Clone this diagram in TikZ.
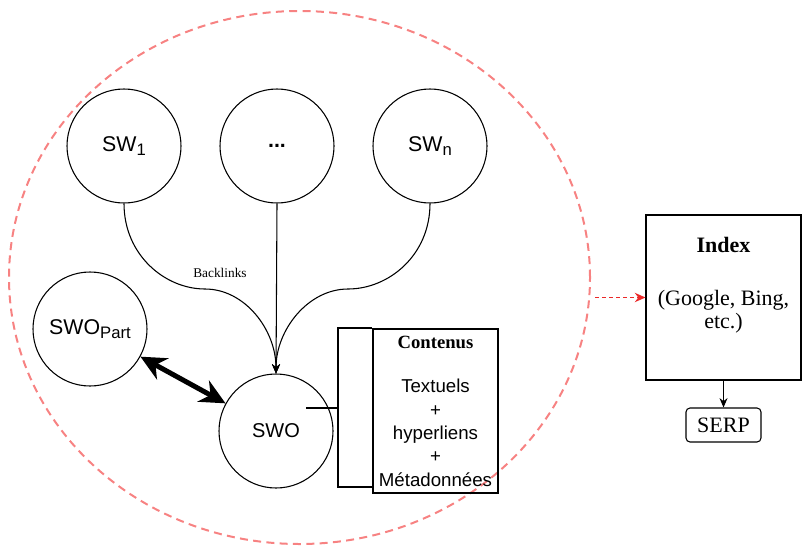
\documentclass[tikz,border=0pt]{standalone}
\usepackage{fontspec}
\setmainfont{Liberation Serif}
\setsansfont{Liberation Sans}
\usetikzlibrary{arrows.meta,shapes.geometric}

\definecolor{zonered}{RGB}{247,130,130}
\definecolor{feedred}{RGB}{235,40,40}

\newcommand{\lowidx}[1]{\raisebox{-3pt}{\fontsize{12.5}{12.5}\selectfont #1}}

\begin{document}
\begin{tikzpicture}[x=0.75pt, y=-0.75pt,
		site/.style={circle, draw, line width=0.8pt, minimum size=85.5pt, inner sep=0pt,
			font=\sffamily\fontsize{16}{19}\selectfont},
		zone/.style={ellipse, draw=zonered, line width=1.5pt, dash pattern=on 6pt off 4pt,
			minimum width=435.75pt, minimum height=399.75pt, inner sep=0pt},
		link/.style={line width=0.8pt, -{Stealth[length=7pt,width=6pt]}},
		duplex/.style={line width=3.75pt, {Stealth[length=19pt,width=18pt]}-{Stealth[length=19pt,width=18pt]}},
		cbox/.style={draw, line width=0.8pt, minimum width=93.75pt, minimum height=123pt,
			align=center, inner sep=1pt, font=\sffamily\fontsize{14}{17.5}\selectfont},
		brk/.style={line width=1.5pt},
		ibox/.style={draw, line width=0.8pt, minimum width=116.25pt, minimum height=123.75pt},
		serp/.style={draw, line width=0.8pt, rounded corners=3pt, minimum width=56.25pt,
			minimum height=25.5pt, inner sep=0pt, font=\fontsize{16.5}{18}\selectfont},
		feed/.style={draw=feedred, line width=1.1pt, dash pattern=on 3pt off 2.25pt,
			-{Stealth[length=8pt,width=7pt]}, shorten <=3pt}]

			% Граница
			\useasboundingbox (0,0) rectangle (802,546);
			\node[zone] (zone) at (299.5,277.5) {};

			% Сайты
			\node[site] (sw1) at (124,146) {SW\lowidx{1}};
			\node[site] (dots) at (277,146) {\textbf{...}};
			\node[site] (swn) at (430,146) {SW\lowidx{n}};
			\node[site] (part) at (90,329) {SWO\lowidx{Part}};
			\node[site, font=\sffamily\fontsize{15}{18}\selectfont] (swo) at (276,431) {SWO};

			% Обратные ссылки
			\coordinate (bl) at (205,289);
			\coordinate (br) at (348,289);
			\draw[link] (sw1.south) .. controls (124,255) and (165,289) .. (bl)
				.. controls (245,289) and (276,330) .. (swo.north);
			\draw[link] (swn.south) .. controls (430,255) and (389,289) .. (br)
				.. controls (308,289) and (276,330) .. (swo.north);
			\draw[link] (dots.south) -- (swo.north);
			\node[font=\fontsize{10}{12}\selectfont] (bk) at (220,273) {Backlinks};

			% Партнёр
			\draw[duplex] (part) -- (swo);

			% Контент
			\node[cbox] (cont) at (435.5,411) {{\rmfamily\bfseries Contenus}\\[16pt]Textuels\\+\\hyperliens\\+\\Métadonnées};
			\draw[brk] (cont.north west) -- ++(-34,0) -- ++(0,159) -- ++(34,0);
			\coordinate (lk) at (306,408);
			\coordinate (brk) at (339,408);
			\draw[brk] (lk) -- (brk);

			% Индекс
			\node[ibox] (idx) at (723.5,297.5) {};
			\node[align=center, inner sep=0pt, anchor=north, font=\fontsize{16.5}{17}\selectfont]
				(idxt) at (723.5,237) {\textbf{Index}\\[23pt](Google, Bing,\\etc.)};
			\node[serp] (serp) at (723.5,425) {SERP};
			\draw[link] (idx.south) -- (serp.north);
			\draw[feed] (zone.east |- idx.west) -- (idx.west);
		\end{tikzpicture}
\end{document}
